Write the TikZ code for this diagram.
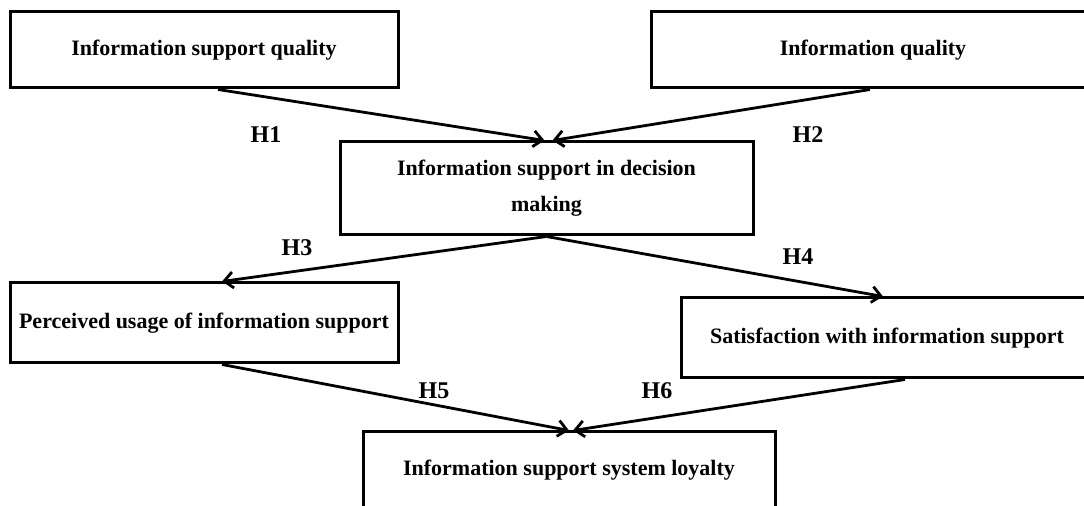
\documentclass[tikz,border=0pt]{standalone}
\usepackage{fontspec}
\setmainfont{Liberation Serif}
\usetikzlibrary{arrows.meta,positioning}

\begin{document}
\begin{tikzpicture}[
    x=0.5pt, y=-0.5pt,
    box/.style={draw, line width=1.5pt, minimum width=#1, inner sep=0pt, font=\fontsize{11}{18}\selectfont\bfseries, align=center},
    hyp/.style={font=\fontsize{12}{14}\selectfont\bfseries},
    link/.style={->, line width=1.4pt},
    >={Straight Barb[length=4.5pt,width=8pt,line width=1.4pt]}
]
\clip (0,0) rectangle (1084,506);
\fill[white] (0,0) rectangle (1084,506);
% boxes
\node[box=194pt, minimum height=38pt] (isq) at (204,50) {Information support quality};
\node[box=222pt, minimum height=38pt] (iq) at (873,50) {Information quality};
\node[box=206.5pt, minimum height=46.5pt] (dec) at (546.5,188.5) {Information support in decision\\making};
\node[box=194pt, minimum height=40pt] (use) at (204,323) {Perceived usage of information support};
\node[box=206pt, minimum height=40pt] (sat) at (887,338) {Satisfaction with information support};
\node[box=206pt, minimum height=38pt] (loy) at (569,470) {Information support system loyalty};
% hypotheses
\node[hyp] (h1) at (266,135) {H1};
\node[hyp] (h2) at (808,135) {H2};
\node[hyp] (h3) at (297,248) {H3};
\node[hyp] (h4) at (798,257) {H4};
\node[hyp] (h5) at (434,391) {H5};
\node[hyp] (h6) at (657,391) {H6};
% paths
\draw[link] ([xshift=7pt]isq.south) -- ([xshift=-1pt]dec.north);
\draw[link] ([xshift=-1.5pt]iq.south) -- ([xshift=3pt]dec.north);
\draw[link] (dec.south) -- ([xshift=9pt]use.north);
\draw[link] (dec.south) -- ([xshift=-2pt]sat.north);
\draw[link] ([xshift=9pt]use.south) -- ([xshift=0pt]loy.north);
\draw[link] ([xshift=9pt]sat.south) -- ([xshift=2pt]loy.north);
\end{tikzpicture}
\end{document}
